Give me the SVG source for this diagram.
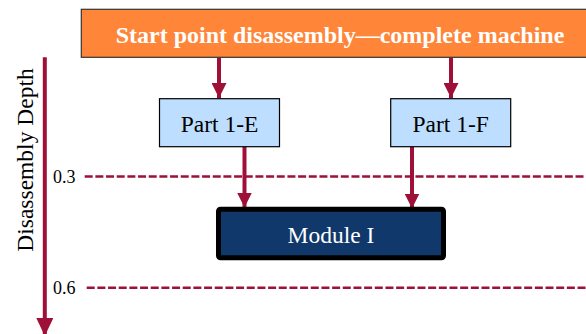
<svg xmlns="http://www.w3.org/2000/svg" width="586" height="334" viewBox="0 0 586 334">
<style>
.lbl{font-family:"Liberation Serif","Times New Roman",serif;font-size:23.5px;text-anchor:middle}
.tick{font-family:"Liberation Serif","Times New Roman",serif;font-size:18px;fill:#000}
.conn{stroke:#9E1038;stroke-width:4;fill:none}
.dash{stroke:#9E1038;stroke-width:2.6;stroke-dasharray:8 2.67;fill:none}
.part{fill:#BDDEFF;stroke:#000;stroke-width:1.2}
</style>
<defs>
<marker id="ah" markerUnits="userSpaceOnUse" markerWidth="15" markerHeight="15" refX="15" refY="7.5" orient="auto" viewBox="0 0 15 15">
<path d="M0,0 L15,7.5 L0,15 z" fill="#9E1038"/>
</marker>
<marker id="ahBig" markerUnits="userSpaceOnUse" markerWidth="18" markerHeight="17" refX="18" refY="8.5" orient="auto" viewBox="0 0 18 17">
<path d="M0,0 L18,8.5 L0,17 z" fill="#9E1038"/>
</marker>
</defs>
<rect width="586" height="334" fill="#fff"/>

<g id="axis">
<line class="conn" x1="44.8" y1="57.3" x2="44.8" y2="336" marker-end="url(#ahBig)"/>
<text class="lbl" transform="translate(33,160) rotate(-90)" style="fill:#000">Disassembly Depth</text>
<text class="tick" x="53" y="182.7">0.3</text>
<text class="tick" x="53" y="294.3">0.6</text>
</g>

<g id="levels">
<line class="dash" x1="84.7" y1="176.5" x2="590" y2="176.5"/>
<line class="dash" x1="86.7" y1="287.8" x2="590" y2="287.8"/>
</g>

<g id="connectors">
<line class="conn" x1="219" y1="57.5" x2="219" y2="98" marker-end="url(#ah)"/>
<line class="conn" x1="451" y1="57.5" x2="451" y2="98" marker-end="url(#ah)"/>
<line class="conn" x1="244.5" y1="146.7" x2="244.5" y2="207.5" marker-end="url(#ah)"/>
<line class="conn" x1="412" y1="146.7" x2="412" y2="208.5" marker-end="url(#ah)"/>
</g>

<g id="start">
<rect x="81.3" y="9.3" width="518" height="48" fill="#FF8539" stroke="#333" stroke-width="1.2"/>
<text class="lbl" x="340" y="42.5" style="fill:#fff;font-weight:bold;font-size:24px">Start point disassembly—complete machine</text>
</g>

<g id="part1e">
<rect class="part" x="159.5" y="98.7" width="120" height="48"/>
<text class="lbl" x="219.5" y="131.5" style="fill:#000">Part 1-E</text>
</g>

<g id="part1f">
<rect class="part" x="390.7" y="98.7" width="120" height="48"/>
<text class="lbl" x="450.7" y="131.5" style="fill:#000">Part 1-F</text>
</g>

<g id="moduleI">
<rect x="218.5" y="209.2" width="225" height="48.5" rx="2" fill="#10386A" stroke="#000" stroke-width="5"/>
<text class="lbl" x="331" y="242.7" style="fill:#fff">Module I</text>
</g>
</svg>
